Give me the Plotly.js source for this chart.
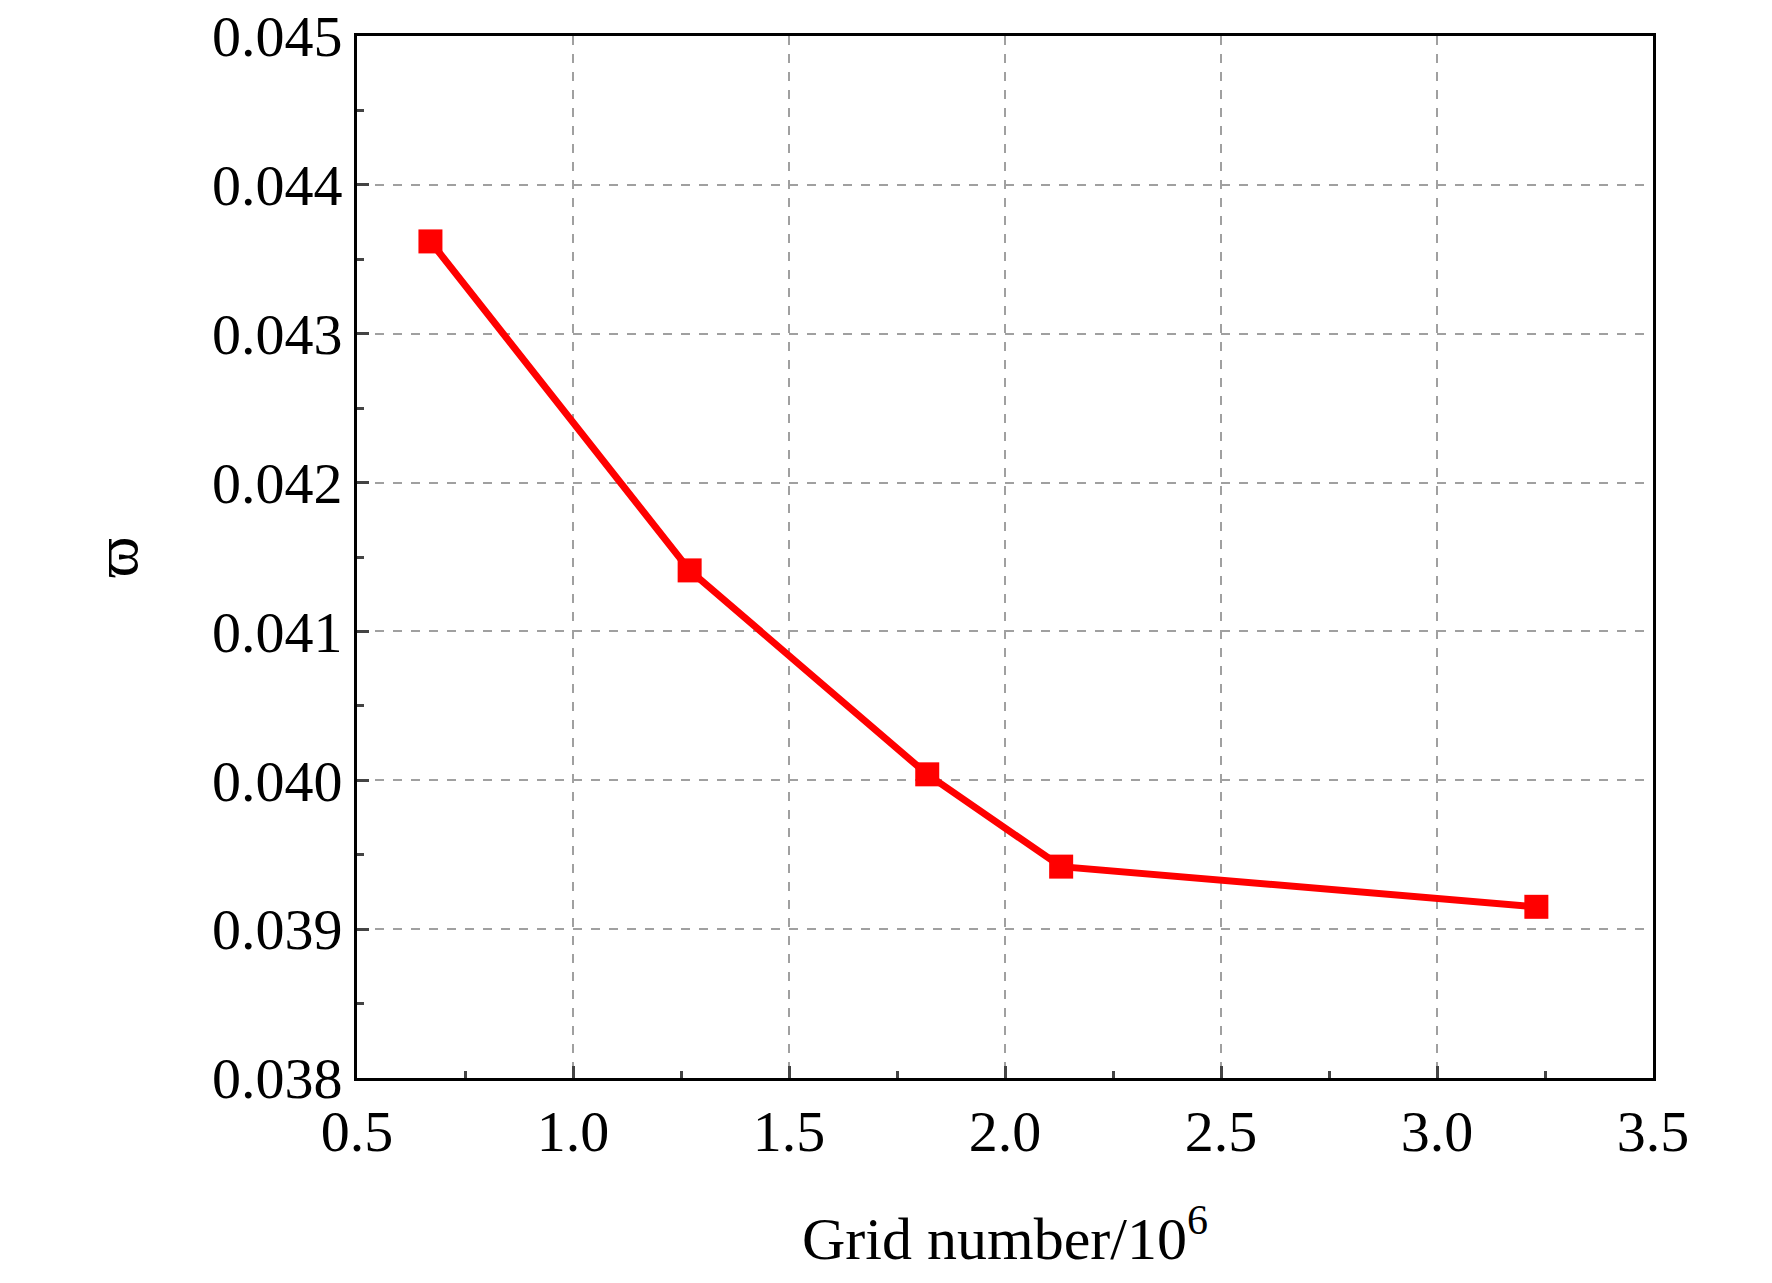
<!DOCTYPE html>
<html><head><script src="https://cdn.plot.ly/plotly-3.0.1.min.js"></script>
<style>body{margin:0;background:#fff}</style></head><body>
<div id="c" style="width:1772px;height:1283px"></div>
<script>
const gridNumber = [0.67, 1.27, 1.82, 2.13, 3.23];
const omega = [0.04362, 0.04141, 0.04004, 0.03942, 0.03915];
const F = 'Liberation Serif, Times New Roman, serif';
Plotly.newPlot('c', [{
  x: gridNumber, y: omega, mode: 'lines+markers', type: 'scatter',
  line: {color: '#ff0000', width: 7},
  marker: {symbol: 'square', size: 24, color: '#ff0000'}
}], {
  width: 1772, height: 1283, showlegend: false,
  paper_bgcolor: '#fff', plot_bgcolor: '#fff',
  margin: {l: 357, r: 119, t: 36, b: 205},
  font: {family: F, color: '#000'},
  xaxis: {range: [0.5, 3.5], dtick: 0.5, tickformat: '.1f', ticks: 'inside', ticklen: 12, tickwidth: 3,
    showline: true, linewidth: 3, linecolor: '#000', mirror: true, zeroline: false,
    showgrid: true, gridcolor: '#a0a0a0', gridwidth: 1.5, griddash: 'dash',
    minor: {dtick: 0.25, ticks: 'inside', ticklen: 7, tickwidth: 3, showgrid: false},
    tickfont: {size: 58, family: F},
    title: {text: 'Grid number/10<sup>6</sup>', font: {size: 60, family: F}, standoff: 55}},
  yaxis: {range: [0.038, 0.045], dtick: 0.001, tickformat: '.3f', ticks: 'inside', ticklen: 12, tickwidth: 3,
    showline: true, linewidth: 3, linecolor: '#000', mirror: true, zeroline: false,
    showgrid: true, gridcolor: '#a0a0a0', gridwidth: 1.5, griddash: 'dash',
    minor: {dtick: 0.0005, ticks: 'inside', ticklen: 7, tickwidth: 3, showgrid: false},
    tickfont: {size: 58, family: F},
    title: {text: 'ϖ', font: {size: 62, family: F}, standoff: 55}}
}, {displayModeBar: false});
</script></body></html>
